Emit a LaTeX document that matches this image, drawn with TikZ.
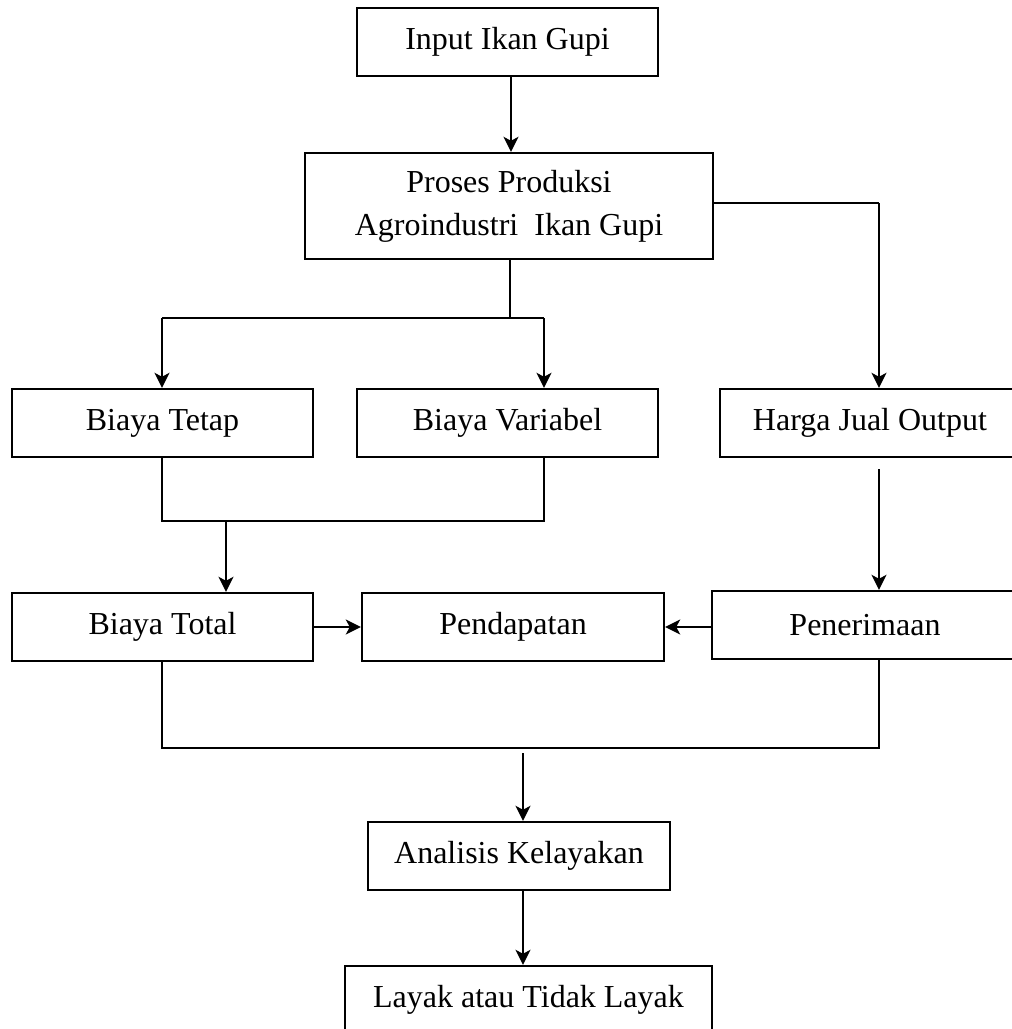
\documentclass[tikz,border=0pt]{standalone}
\usepackage{fontspec}
\setmainfont{Liberation Serif}
\usetikzlibrary{arrows.meta,calc}
\tikzset{
  boxnode/.style={draw, line width=2.4pt, inner sep=0pt, align=center,
    font=\fontsize{32pt}{43pt}\selectfont},
  arr/.style={line width=2.2pt, -{Stealth[length=15pt,width=15pt,inset=4pt]}},
  thin line/.style={line width=1.4pt},
}
\begin{document}
\begin{tikzpicture}[x=1pt,y=-1pt]
\clip (0,0) rectangle (1012,1029);
\fill[white] (0,0) rectangle (1012,1029);

% nodes
\node[boxnode, minimum width=301pt, minimum height=68pt] (in) at (507.5,42) {Input Ikan Gupi};
\node[boxnode, minimum width=408pt, minimum height=106pt] (proses) at (509,206) {Proses Produksi\\Agroindustri\ \ Ikan Gupi};
\node[boxnode, minimum width=301pt, minimum height=68pt] (tetap) at (162.5,423) {Biaya Tetap};
\node[boxnode, minimum width=301pt, minimum height=68pt] (var) at (507.5,423) {Biaya Variabel};
\node[boxnode, minimum width=300pt, minimum height=68pt] (harga) at (870,423) {Harga Jual Output};
\node[boxnode, minimum width=301pt, minimum height=68pt] (total) at (162.5,627) {Biaya Total};
\node[boxnode, minimum width=302pt, minimum height=68pt] (pend) at (513,627) {Pendapatan};
\node[boxnode, minimum width=306pt, minimum height=68pt] (pener) at (865,625) {Penerimaan};
\node[boxnode, minimum width=302pt, minimum height=68pt] (anal) at (519,856) {Analisis Kelayakan};
\node[boxnode, minimum width=367pt, minimum height=68pt] (layak) at (528.5,1000) {Layak atau Tidak Layak};

% coordinates
\coordinate (split) at (510,318);
\coordinate (sL) at (162,318);
\coordinate (sR) at (544,318);
\coordinate (hR) at (879,203);
\coordinate (jL) at (162,521);
\coordinate (jR) at (544,521);
\coordinate (jA) at (226,521);
\coordinate (hS) at (879,469);
\coordinate (bL) at (162,748);
\coordinate (bR) at (879,748);
\coordinate (bA) at (523,753);
\coordinate (iA) at (511,76);

% connectors
\draw[arr] (iA) -- (iA |- proses.north);
\draw[thin line] (proses.south -| split) -- (split);
\draw[thin line] (sL) -- (sR);
\draw[arr] (sL) -- (sL |- tetap.north);
\draw[arr] (sR) -- (sR |- var.north);

\draw[thin line] (proses.east |- hR) -- (hR);
\draw[arr] (hR) -- (hR |- harga.north);

\draw[thin line] (jL |- tetap.south) -- (jL) -- (jR) -- (jR |- var.south);
\draw[arr] (jA) -- (jA |- total.north);

\draw[arr] (hS) -- (hS |- pener.north);

\draw[arr] (total.east) -- (pend.west);
\draw[arr] (pener.west |- pend.east) -- (pend.east);

\draw[thin line] (bL |- total.south) -- (bL) -- (bR) -- (bR |- pener.south);
\draw[arr] (bA) -- (bA |- anal.north);
\draw[arr] (bA |- anal.south) -- (bA |- layak.north);
\end{tikzpicture}
\end{document}
